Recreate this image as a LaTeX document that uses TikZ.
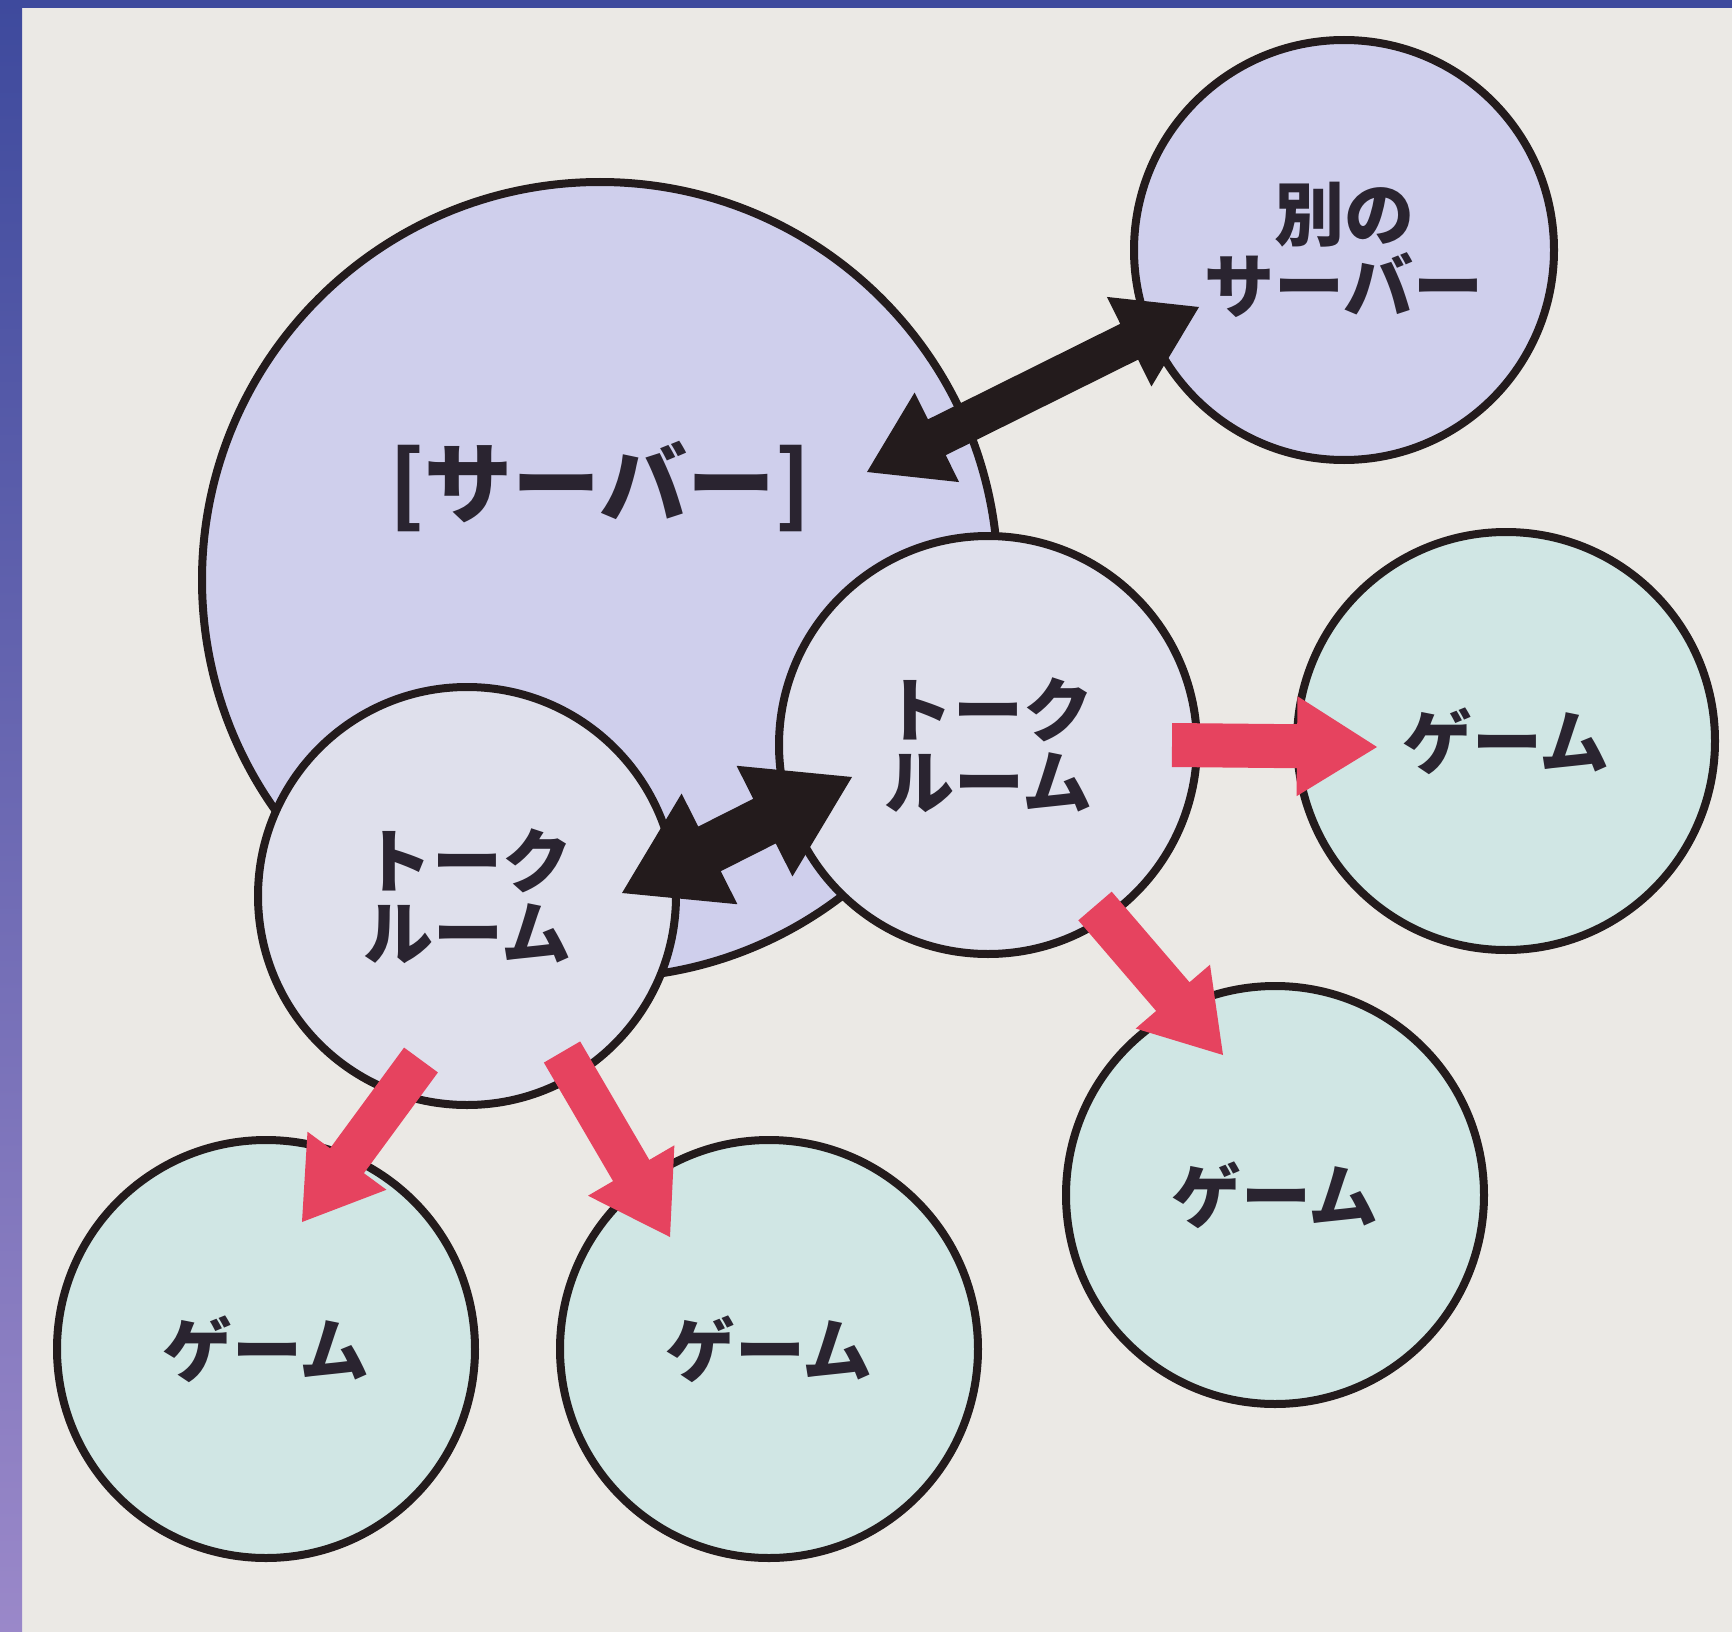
\documentclass[tikz,border=0pt]{standalone}
\usepackage{fontspec}
\newfontfamily\jp{Noto Sans CJK JP}[BoldFont={Noto Sans CJK JP Black}]
\usetikzlibrary{calc}
\definecolor{bgc}{HTML}{EBE9E5}
\definecolor{serverc}{HTML}{CFCFEC}
\definecolor{talkc}{HTML}{DFE0EC}
\definecolor{gamec}{HTML}{D0E6E4}
\definecolor{redc}{HTML}{E6435F}
\definecolor{blackc}{HTML}{231B1C}
\definecolor{inkc}{HTML}{2A2430}
\definecolor{bandtop}{HTML}{3E4A9D}
\definecolor{bandbot}{HTML}{9A88C9}
% single block arrow: #1 tail, #2 tip, #3 half shaft, #4 half head, #5 head length, #6 colour
\newcommand\singlearrow[6]{%
  \coordinate (hb) at ($(#2)!#5!(#1)$);
  \fill[#6] ($(#1)!#3!90:(#2)$) -- ($(hb)!#3!90:(#2)$) -- ($(hb)!#4!90:(#2)$) -- (#2)
    -- ($(hb)!#4!-90:(#2)$) -- ($(hb)!#3!-90:(#2)$) -- ($(#1)!#3!-90:(#2)$) -- cycle;}
% double block arrow
\newcommand\doublearrow[6]{%
  \coordinate (ha) at ($(#1)!#5!(#2)$);
  \coordinate (hb) at ($(#2)!#5!(#1)$);
  \fill[#6] (#1) -- ($(ha)!#4!90:(#2)$) -- ($(ha)!#3!90:(#2)$) -- ($(hb)!#3!90:(#2)$)
    -- ($(hb)!#4!90:(#2)$) -- (#2) -- ($(hb)!#4!-90:(#2)$) -- ($(hb)!#3!-90:(#2)$)
    -- ($(ha)!#3!-90:(#2)$) -- ($(ha)!#4!-90:(#2)$) -- cycle;}
\tikzset{
  bubble/.style={circle, draw=blackc, line width=8pt, inner sep=0pt, text=inkc,
    align=center, font=\jp\bfseries\fontsize{70}{72}\selectfont},
  serverbubble/.style={bubble, fill=serverc, minimum size=796pt},
  otherbubble/.style={bubble, fill=serverc, minimum size=420pt},
  talkbubble/.style={bubble, fill=talkc, minimum size=418pt},
  gamebubble/.style={bubble, fill=gamec, minimum size=418pt},
}
\begin{document}
\begin{tikzpicture}[x=1pt,y=-1pt]
\useasboundingbox (0,0) rectangle (1732,1632);
\fill[bgc] (0,0) rectangle (1732,1632);
\shade[top color=bandtop, bottom color=bandbot] (0,0) rectangle (22,1632);
\fill[bandtop] (0,0) rectangle (1732,8);

\node[serverbubble] (server) at (600,580) {};
\node[text=inkc, font=\jp\bfseries\fontsize{88}{90}\selectfont] (serverlabel) at (600,486) {[サーバー]};
\node[otherbubble] (other) at (1344,250) {別の\\サーバー};
\node[talkbubble] (talkR) at (988,745) {トーク\\ルーム};
\node[talkbubble] (talkL) at (467,896) {トーク\\ルーム};
\node[gamebubble] (gameR) at (1506,741) {ゲーム};
\node[gamebubble] (gameM) at (1275,1195) {ゲーム};
\node[gamebubble] (gameBL) at (266,1349) {ゲーム};
\node[gamebubble] (gameBM) at (769,1349) {ゲーム};

% black double arrows
\coordinate (s1) at (867,472);
\coordinate (s2) at (1199,307);
\doublearrow{s1}{s2}{20pt}{50pt}{78pt}{blackc}
\coordinate (k1) at (622,893);
\coordinate (k2) at (852,777);
\doublearrow{k1}{k2}{25pt}{62pt}{98pt}{blackc}

% red arrows
\coordinate (r1a) at (1172,745);
\coordinate (r1b) at (1377,747);
\singlearrow{r1a}{r1b}{22pt}{50pt}{80pt}{redc}
\coordinate (r2a) at (1095,906);
\coordinate (r2b) at (1223,1055);
\singlearrow{r2a}{r2b}{22pt}{49pt}{77pt}{redc}
\coordinate (r3a) at (421,1060);
\coordinate (r3b) at (302,1222);
\singlearrow{r3a}{r3b}{21pt}{49pt}{76pt}{redc}
\coordinate (r4a) at (562,1052);
\coordinate (r4b) at (670,1237);
\singlearrow{r4a}{r4b}{21pt}{50pt}{77pt}{redc}
\end{tikzpicture}
\end{document}
